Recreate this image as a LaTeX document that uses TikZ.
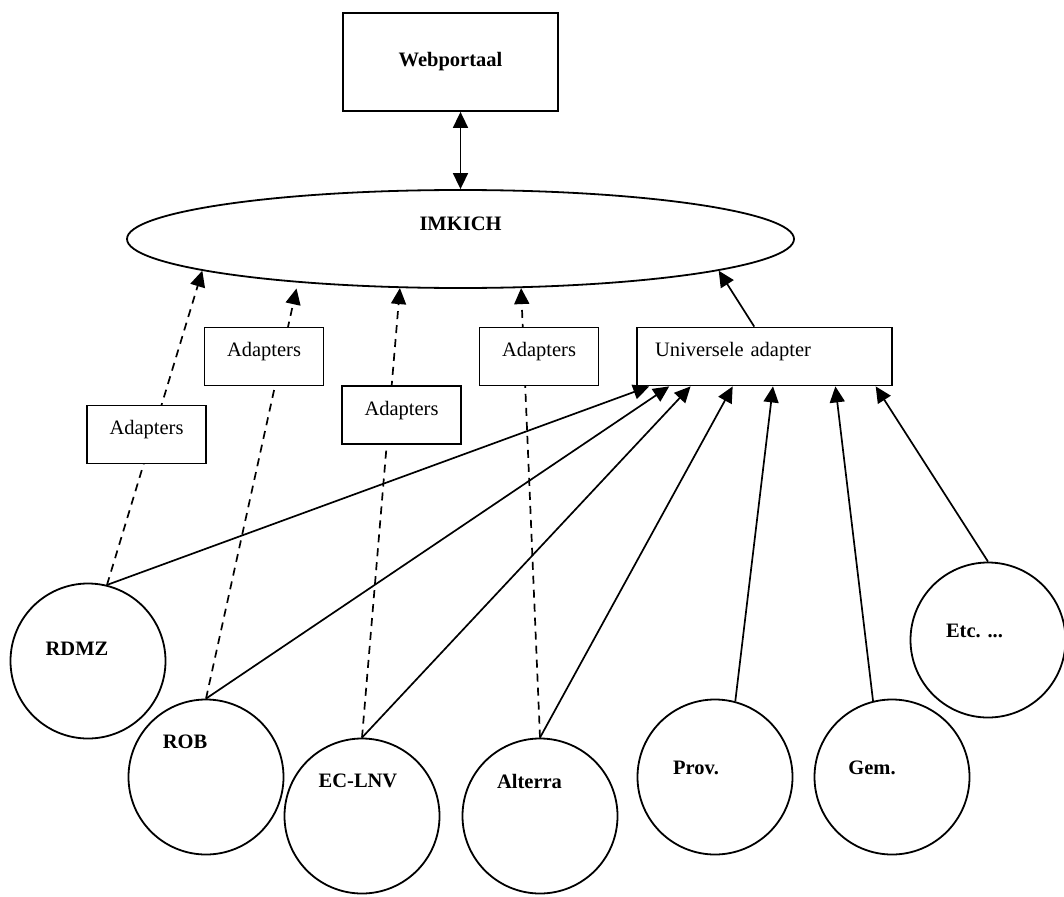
\documentclass[tikz,border=0pt]{standalone}
\usepackage{fontspec}
\setmainfont{Liberation Serif}
\usetikzlibrary{shapes.geometric,arrows.meta,calc,backgrounds}

\begin{document}
\begin{tikzpicture}[x=1pt,y=-1pt,line width=1.7pt,
  every node/.style={font=\fontsize{20.5}{24}\selectfont},
  box/.style={draw,rectangle,fill=white,line width=1.8pt,minimum width=119pt,minimum height=58pt,text height=14pt,text depth=14pt},
  party/.style={draw,circle,fill=white,line width=1.8pt,minimum size=155pt},
  tip/.style={line width=1.7pt,-{Triangle[length=16pt,width=15pt]}},
  both/.style={line width=1.7pt,{Triangle[length=16pt,width=15pt]}-{Triangle[length=16pt,width=15pt]}},
  dashlink/.style={tip,dash pattern=on 8pt off 6pt}]
  \useasboundingbox (0,0) rectangle (1064,896);

  \node[draw,line width=1.8pt,minimum width=215pt,minimum height=98pt] (web) at (450.5,62) {\textbf{Webportaal}};
  \node[draw,ellipse,fill=white,line width=1.8pt,minimum width=667pt,minimum height=98pt,
    label={[yshift=15pt]center:\textbf{IMKICH}}] (imkich) at (460.5,239) {};

  \node[box] (ad1) at (146.5,434.5) {Adapters};
  \node[box] (ad2) at (264,356.5) {Adapters};
  \node[box] (ad3) at (401.5,415) {Adapters};
  \node[box] (ad4) at (539,356.5) {Adapters};
  \node[box,minimum width=255pt,text width=219pt,align=left,inner xsep=18pt] (univ) at (764.5,356.5) {Universele adapter};

  \node[party,label={[xshift=-11pt,yshift=12pt]center:\textbf{RDMZ}}] (rdmz) at (88,661) {};
  \node[party,label={[xshift=-21pt,yshift=35pt]center:\textbf{ROB}}] (rob) at (206,777) {};
  \node[party,label={[xshift=-4pt,yshift=35pt]center:\textbf{EC-LNV}}] (eclnv) at (362,816) {};
  \node[party,label={[xshift=-10.5pt,yshift=35pt]center:\textbf{Alterra}}] (alterra) at (540,816) {};
  \node[party,label={[xshift=-19pt,yshift=9pt]center:\textbf{Prov.}}] (prov) at (715,777) {};
  \node[party,label={[xshift=-20pt,yshift=9pt]center:\textbf{Gem.}}] (gem) at (892,777) {};
  \node[party,label={[xshift=-13.5pt,yshift=9pt]center:\textbf{Etc. ...}}] (etc) at (988,640) {};

  \draw[both] (web.south -| imkich.north) -- (imkich.north);

  \begin{scope}[on background layer]
    \draw[dashlink] (rdmz.76) -- (imkich.187);
    \draw[dashlink,shorten >=6pt] (rob.north) -- (imkich.195);
    \draw[dashlink] (eclnv.north) -- (imkich.219);
    \draw[dashlink] (alterra.north) -- (imkich.321);
  \end{scope}

  \draw[tip] (rdmz.76) -- ($(univ.south west)!0.051!(univ.south east)$);
  \draw[tip] (rob.north) -- ($(univ.south west)!0.129!(univ.south east)$);
  \draw[tip] (eclnv.north) -- ($(univ.south west)!0.212!(univ.south east)$);
  \draw[tip] (alterra.north) -- ($(univ.south west)!0.376!(univ.south east)$);
  \draw[tip] (prov.75) -- ($(univ.south west)!0.533!(univ.south east)$);
  \draw[tip] (gem.104) -- ($(univ.south west)!0.776!(univ.south east)$);
  \draw[tip] (etc.north) -- ($(univ.south west)!0.933!(univ.south east)$);
  \draw[tip] ($(univ.north west)!0.46!(univ.north east)$) -- (imkich.353);
\end{tikzpicture}
\end{document}
